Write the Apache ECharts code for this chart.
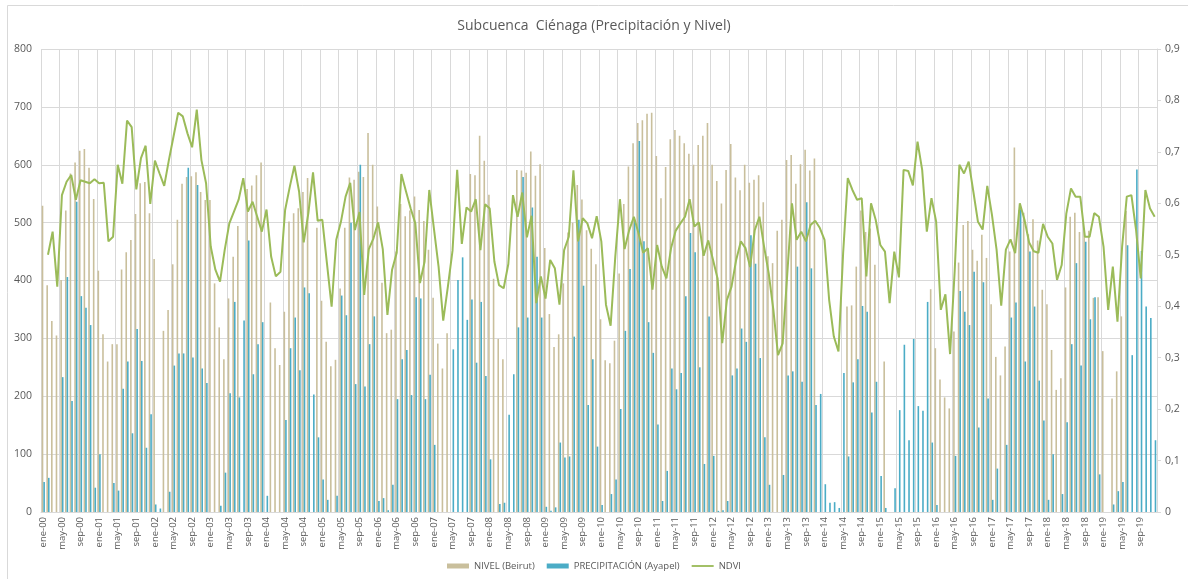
<!DOCTYPE html>
<html>
<head>
<meta charset="utf-8">
<script src="https://cdn.jsdelivr.net/npm/echarts@6/dist/echarts.min.js"></script>
<style>
  html, body { margin: 0; padding: 0; background: #fff; }
  #main { width: 1188px; height: 579px; }
</style>
</head>
<body>
<div id="main"></div>
<script>
// meses y años del eje
var monthNames = ['ene', 'feb', 'mar', 'abr', 'may', 'jun', 'jul', 'ago', 'sep', 'oct', 'nov', 'dic'];
var years = ['00', '01', '02', '03', '04', '05', '06', '07', '08', '09', '10', '11', '12', '13', '14', '15', '16', '17', '18', '19'];

// NIVEL (Beirut), un valor por mes desde ene-00
var nivel = [
  529, 392, 330, 305, 401, 521, 585, 604, 624, 627, 595, 541,
  417, 307, 260, 290, 290, 419, 449, 470, 515, 568, 570, 516,
  437, null, 313, 349, 428, 505, 567, 579, 580, 587, 553, 539,
  539, 395, 319, 264, 369, 441, 494, null, 558, 564, 582, 604,
  null, 362, 283, 254, 346, 502, 516, 525, 553, 577, null, 491,
  365, 294, 252, 263, 386, 491, 578, 574, 588, 579, 655, 600,
  528, 396, 309, 315, 450, 532, 511, 521, 545, 522, 503, 453,
  370, 291, 248, 309, null, null, null, null, 584, 582, 650, 607,
  548, 403, 299, 264, null, null, 591, 590, 586, 623, 581, 601,
  456, 342, 285, 307, 395, 483, 500, 565, 540, 487, 455, 428,
  333, 262, 257, 296, 412, 532, 597, 637, 672, 677, 688, 690,
  615, 542, 596, 644, 660, 650, 637, 619, 600, 634, 650, 672,
  600, 572, 533, 591, 636, 578, 556, 600, 569, 574, 582, 535,
  442, 430, 486, 505, 608, 617, 567, 601, 626, 590, 611, null,
  null, null, null, null, null, 355, 357, 424, 521, 484, 490, 427,
  null, 260, null, null, null, null, null, null, null, null, null, 385,
  283, 229, 198, 179, 312, 431, 496, 503, 453, 434, 479, 439,
  359, 268, 236, 286, 450, 630, 522, 517, 480, 506, 469, 384,
  359, 280, 211, 231, 388, 510, 517, 484, 490, 486, 370, 371,
  278, null, 196, 243, 338, 520, null, null, null, null, null, null
];

// PRECIPITACIÓN (Ayapel)
var precipitacion = [
  52, 59, 0, 0, 233, 406, 192, 536, 373, 353, 323, 42,
  100, 0, 0, 50, 37, 213, 260, 136, 316, 261, 111, 169,
  13, 6, 0, 35, 253, 274, 274, 595, 267, 565, 248, 223,
  0, 0, 11, 68, 205, 363, 198, 331, 469, 238, 290, 328,
  28, 0, 0, 0, 159, 283, 336, 245, 388, 378, 203, 129,
  56, 21, 0, 28, 374, 340, 500, 221, 600, 217, 290, 338,
  19, 24, 3, 47, 195, 264, 280, 202, 371, 369, 195, 237,
  116, 0, 0, 0, 281, 401, 440, 332, 367, 258, 363, 235,
  91, 0, 14, 16, 168, 238, 319, 579, 336, 526, 441, 336,
  9, 2, 8, 120, 94, 96, 303, 505, 391, 185, 264, 113,
  12, 0, 31, 56, 178, 313, 420, 505, 641, 468, 328, 275,
  151, 19, 71, 248, 212, 240, 373, 482, 449, 250, 83, 338,
  97, 2, 3, 19, 236, 248, 317, 294, 478, 429, 266, 129,
  47, 0, 0, 64, 236, 243, 424, 225, 535, 421, 185, 204,
  48, 16, 17, 7, 240, 96, 224, 264, 356, 346, 172, 225,
  62, 7, 0, 41, 176, 289, 124, 299, 183, 175, 363, 120,
  12, 0, 0, 0, 97, 382, 346, 323, 415, 146, 397, 196,
  21, 75, 0, 116, 336, 362, 523, 260, 450, 355, 227, 158,
  21, 100, 0, 31, 155, 290, 430, 253, 467, 333, 371, 65,
  0, 0, 13, 36, 52, 461, 271, 592, 451, 355, 335, 124
];

// NDVI (eje derecho)
var ndvi = [
  null, 0.500, 0.545, 0.438, 0.616, 0.642, 0.655, 0.607, 0.645, 0.642, 0.639, 0.647,
  0.639, 0.640, 0.526, 0.535, 0.675, 0.638, 0.761, 0.748, 0.627, 0.688, 0.712, 0.599,
  0.683, 0.658, 0.634, 0.684, 0.730, 0.776, 0.769, 0.736, 0.709, 0.782, 0.684, 0.639,
  0.516, 0.471, 0.448, 0.509, 0.561, 0.584, 0.607, 0.649, 0.584, 0.603, 0.574, 0.545,
  0.588, 0.496, 0.458, 0.467, 0.587, 0.632, 0.673, 0.623, 0.524, 0.581, 0.660, 0.566,
  0.568, 0.483, 0.399, 0.529, 0.564, 0.613, 0.640, 0.548, 0.583, 0.422, 0.511, 0.532,
  0.563, 0.511, 0.383, 0.471, 0.504, 0.657, 0.623, 0.590, 0.561, 0.445, 0.487, 0.626,
  0.551, 0.477, 0.372, 0.438, 0.508, 0.665, 0.521, 0.592, 0.584, 0.608, 0.509, 0.598,
  0.590, 0.487, 0.441, 0.435, 0.482, 0.616, 0.574, 0.621, 0.534, 0.576, 0.406, 0.458,
  0.415, 0.490, 0.474, 0.403, 0.509, 0.535, 0.664, 0.526, 0.571, 0.561, 0.532, 0.575,
  0.526, 0.403, 0.362, 0.496, 0.608, 0.511, 0.548, 0.574, 0.542, 0.504, 0.513, 0.432,
  0.519, 0.477, 0.454, 0.513, 0.547, 0.561, 0.574, 0.608, 0.555, 0.563, 0.498, 0.528,
  0.491, 0.454, 0.328, 0.412, 0.438, 0.490, 0.526, 0.513, 0.476, 0.548, 0.574, 0.516,
  0.464, 0.393, 0.305, 0.328, 0.464, 0.600, 0.529, 0.545, 0.526, 0.558, 0.566, 0.552,
  0.529, 0.412, 0.341, 0.312, 0.503, 0.649, 0.626, 0.607, 0.610, 0.458, 0.600, 0.568,
  0.519, 0.506, 0.406, 0.506, 0.456, 0.665, 0.663, 0.635, 0.720, 0.665, 0.545, 0.610,
  0.565, 0.393, 0.423, 0.307, 0.470, 0.675, 0.658, 0.681, 0.623, 0.564, 0.549, 0.634,
  0.578, 0.510, 0.401, 0.510, 0.530, 0.503, 0.600, 0.568, 0.524, 0.507, 0.504, 0.560,
  0.535, 0.522, 0.451, 0.480, 0.580, 0.629, 0.613, 0.613, 0.535, 0.535, 0.581, 0.574,
  0.516, 0.393, 0.477, 0.370, 0.516, 0.613, 0.616, 0.548, 0.454, 0.626, 0.590, 0.574
];

var categories = [];
years.forEach(function (y) {
  monthNames.forEach(function (m) {
    categories.push(m + '-' + y);
  });
});

var textColor = '#595959';
var gridColor = '#d9d9d9';
var font = '"Open Sans", sans-serif';

var chart = echarts.init(document.getElementById('main'));

var option = {
  animation: false,
  backgroundColor: '#fff',
  textStyle: { fontFamily: font },
  graphic: [{
    type: 'rect',
    shape: { x: 7.5, y: 5.5, width: 1300, height: 700 },
    style: { fill: 'none', stroke: gridColor, lineWidth: 1 },
    silent: true
  }],
  title: {
    text: 'Subcuenca  Ciénaga (Precipitación y Nivel)',
    left: 'center',
    top: 14,
    textStyle: { color: textColor, fontSize: 14, fontWeight: 'normal', fontFamily: font }
  },
  legend: {
    bottom: 3,
    left: 'center',
    itemWidth: 22,
    itemHeight: 5,
    itemGap: 12,
    textStyle: { color: textColor, fontSize: 9.5, fontFamily: font },
    data: [
      { name: 'NIVEL (Beirut)', icon: 'rect' },
      { name: 'PRECIPITACIÓN (Ayapel)', icon: 'rect' },
      { name: 'NDVI', icon: 'path://M0,0 L24,0 L24,2 L0,2 Z' }
    ]
  },
  grid: { left: 41, right: 31, top: 49, bottom: 67 },
  xAxis: {
    type: 'category',
    data: categories,
    boundaryGap: true,
    axisLine: { show: true, lineStyle: { color: gridColor } },
    axisTick: { show: false },
    axisLabel: {
      interval: 3,
      rotate: 90,
      color: textColor,
      fontSize: 9.5,
      margin: 5,
      fontFamily: font
    },
    splitLine: { show: true, interval: 3, lineStyle: { color: gridColor, width: 1 } }
  },
  yAxis: [{
    type: 'value',
    min: 0,
    max: 800,
    interval: 100,
    axisLine: { show: false },
    axisTick: { show: false },
    axisLabel: { color: textColor, fontSize: 10.5, margin: 9, fontFamily: font },
    splitLine: { lineStyle: { color: gridColor, width: 1 } }
  }, {
    type: 'value',
    min: 0,
    max: 0.9,
    interval: 0.1,
    axisLine: { show: true, lineStyle: { color: gridColor } },
    axisTick: { show: true, length: 4, lineStyle: { color: gridColor } },
    axisLabel: {
      color: textColor,
      fontSize: 10.5,
      margin: 8,
      fontFamily: font,
      formatter: function (v) { return v === 0 ? '0' : v.toFixed(1).replace('.', ','); }
    },
    splitLine: { show: false }
  }],
  series: [{
    name: 'NIVEL (Beirut)',
    type: 'bar',
    data: nivel,
    barWidth: 1.6,
    barGap: '0%',
    itemStyle: { color: '#c9bf9c' }
  }, {
    name: 'PRECIPITACIÓN (Ayapel)',
    type: 'bar',
    data: precipitacion,
    barWidth: 1.6,
    itemStyle: { color: '#4bacc6' }
  }, {
    name: 'NDVI',
    type: 'line',
    yAxisIndex: 1,
    data: ndvi,
    showSymbol: false,
    symbol: 'none',
    connectNulls: false,
    lineStyle: { color: '#9bbb59', width: 2 },
    itemStyle: { color: '#9bbb59' }
  }]
};

chart.setOption(option);
</script>
</body>
</html>
